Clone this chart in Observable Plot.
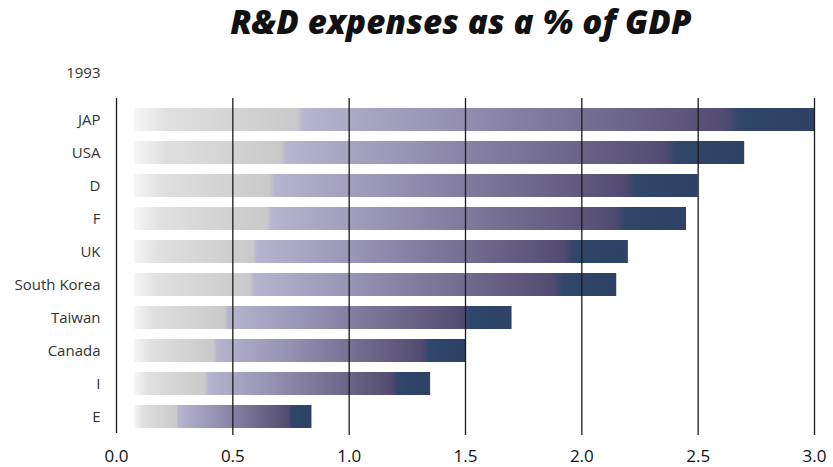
<!DOCTYPE html>
<html>
<head>
<meta charset="utf-8">
<script src="https://cdn.jsdelivr.net/npm/d3@7"></script>
<script src="https://cdn.jsdelivr.net/npm/@observablehq/plot@0.6"></script>
<style>
  body { margin: 0; background: #fff; }
  #title {
    position: relative; width: 833px; height: 48px;
    font-family: "Open Sans", sans-serif; font-weight: 800; font-style: italic;
    font-size: 33px; line-height: 40px; color: #111;
  }
  #title span {
    position: absolute; left: 461px; top: 2px;
    transform: translateX(-50%); white-space: nowrap; letter-spacing: 0.2px;
  }
</style>
</head>
<body>
<div id="title"><span></span></div>
<div id="chart"></div>
<script>
// R&D spending as a share of GDP, 1993
const chartTitle = "R&D expenses as a % of GDP";
const yearLabel = "1993";
const countries = ["JAP", "USA", "D", "F", "UK", "South Korea", "Taiwan", "Canada", "I", "E"];
const rdShare = [3.0, 2.7, 2.5, 2.45, 2.2, 2.15, 1.7, 1.5, 1.35, 0.84];
const xTicks = [0, 0.5, 1.0, 1.5, 2.0, 2.5, 3.0];

document.querySelector("#title span").textContent = chartTitle;

const rows = countries.map((country, i) => ({country, value: rdShare[i]}));

// horizontal fade from pale grey through lavender to navy, per bar
const gradientStops = [
  [0.00, "#f6f6f6"],
  [0.05, "#e0e0e0"],
  [0.24, "#c9c9c9"],
  [0.25, "#b6b4ce"],
  [0.45, "#9894b4"],
  [0.62, "#7c7698"],
  [0.80, "#5f587c"],
  [0.87, "#524a72"],
  [0.89, "#30466a"],
  [1.00, "#2d4264"]
];

const gradientDefs = () => {
  const g = d3.create("svg:g");
  const lg = g.append("defs").append("linearGradient")
    .attr("id", "rdGrad").attr("x1", 0).attr("x2", 1).attr("y1", 0).attr("y2", 0);
  for (const [o, c] of gradientStops) lg.append("stop").attr("offset", o).attr("stop-color", c);
  return g.node();
};

const chart = Plot.plot({
  width: 833,
  height: 419,
  marginLeft: 116,
  marginRight: 19,
  marginTop: 46,
  marginBottom: 26,
  style: {fontFamily: "'Open Sans', sans-serif", background: "transparent", overflow: "visible"},
  x: {domain: [0, 3]},
  y: {domain: countries, padding: 0.315},
  marks: [
    gradientDefs,
    Plot.barX(rows, {x: "value", y: "country", fill: "url(#rdGrad)", insetLeft: 18}),
    Plot.ruleX(xTicks.slice(1), {stroke: "#1a1a1a", strokeWidth: 1.3, insetTop: 4, insetBottom: 6}),
    Plot.ruleX([0], {stroke: "#1a1a1a", strokeWidth: 1.3, insetTop: 4, insetBottom: 8}),
    Plot.axisX({ticks: xTicks, tickFormat: d3.format(".1f"), tickSize: 0, tickPadding: 8,
                fontSize: 17, fill: "#111", label: null}),
    Plot.axisY({tickSize: 0, tickPadding: 16, fontSize: 15, fill: "#333", label: null}),
    Plot.text([yearLabel], {frameAnchor: "top-left", dx: -16, dy: -21, text: d => d,
                textAnchor: "end", lineAnchor: "middle", fontSize: 15, fill: "#333"})
  ]
});

document.getElementById("chart").append(chart);
</script>
</body>
</html>
